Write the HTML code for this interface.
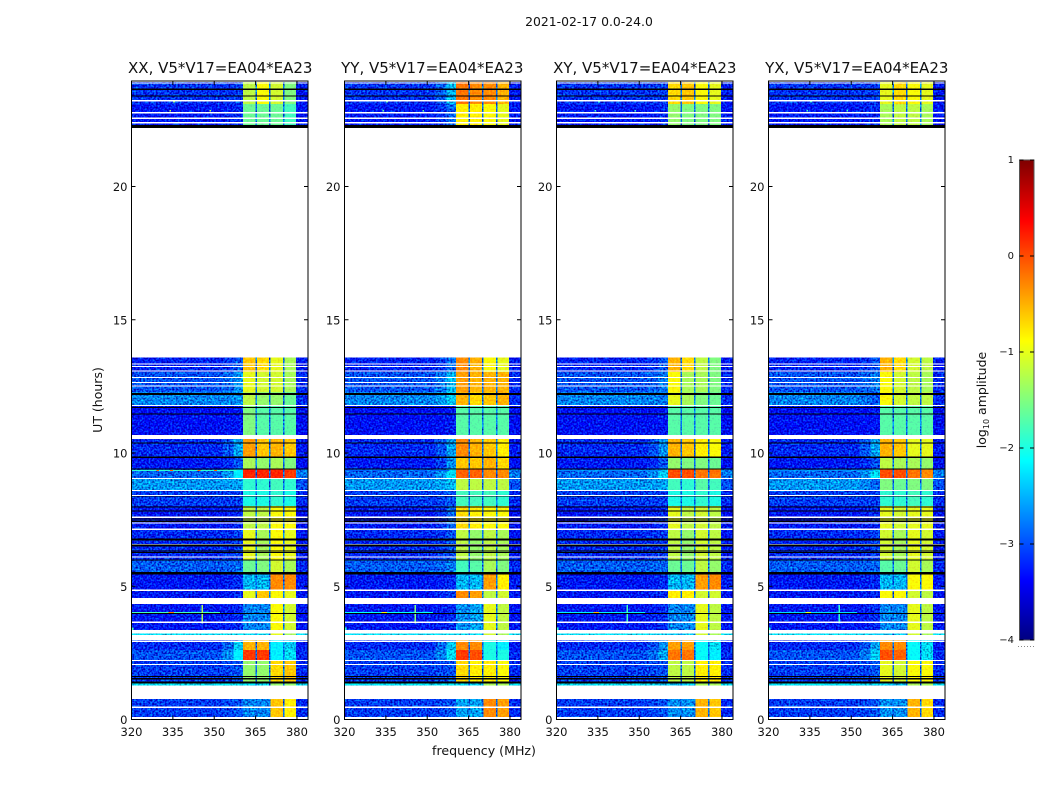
<!DOCTYPE html>
<html lang="en">
<head>
<meta charset="utf-8">
<title>2021-02-17 0.0-24.0</title>
<style>
html,body{margin:0;padding:0;background:#fff;}
svg{display:block;font-family:"DejaVu Sans","Liberation Sans",sans-serif;}
text{fill:#111;}
</style>
</head>
<body>
<svg id="figure" xmlns="http://www.w3.org/2000/svg" width="1050" height="800" viewBox="0 0 1050 800">
<defs>
<filter id="grain" x="0" y="0" width="100%" height="100%" color-interpolation-filters="sRGB">
<feTurbulence type="fractalNoise" baseFrequency="0.55" numOctaves="1" seed="4" result="n"/>
<feColorMatrix in="n" type="matrix" values="0 0 0 0 0.5  0 1 0 0 0  0 1 0 0 0  0 0 0 0 1" result="m"/>
<feComposite in="SourceGraphic" in2="m" operator="arithmetic" k1="0" k2="1" k3="1.5" k4="-0.75" result="a"/>
<feComposite in="a" in2="SourceAlpha" operator="in"/>
</filter>
<filter id="grain-soft" x="0" y="0" width="100%" height="100%" color-interpolation-filters="sRGB">
<feTurbulence type="fractalNoise" baseFrequency="0.55" numOctaves="1" seed="9" result="n"/>
<feColorMatrix in="n" type="matrix" values="0 0 0 0 0.5  0 1 0 0 0  0 0 0 0 0.5  0 0 0 0 1" result="m"/>
<feComposite in="SourceGraphic" in2="m" operator="arithmetic" k1="0" k2="1" k3="0.5" k4="-0.25" result="a"/>
<feComposite in="a" in2="SourceAlpha" operator="in"/>
</filter>
</defs>
<text x="589" y="26" text-anchor="middle" font-size="12.4">2021-02-17 0.0-24.0</text>
<text x="484" y="755" text-anchor="middle" font-size="12.6">frequency (MHz)</text>
<text transform="translate(102,400) rotate(-90)" text-anchor="middle" font-size="12.5">UT (hours)</text>
<g id="panels"></g>
<g id="colorbar"></g>
</svg>
<script>
// ---- Data ----
const panelTitles = ["XX, V5*V17=EA04*EA23", "YY, V5*V17=EA04*EA23", "XY, V5*V17=EA04*EA23", "YX, V5*V17=EA04*EA23"];
const panelKeys = ["xx", "yy", "xy", "yx"];
const freqTicks = [320, 335, 350, 365, 380];
const hourTicks = [0, 5, 10, 15, 20];
const colorbarTicks = [-4, -3, -2, -1, 0, 1];

// spectral columns in MHz: background, shoulder, near-band rise, four windows, tail
const columnEdges = [320, 353, 357, 360.4, 364.9, 365.5, 369.8, 370.4, 374.9, 375.4, 379.6, 384];

// time sections in UT hours [start, end]
const sectionHours = [
  [23.09,23.92],[22.23,23.09],[13.04,13.59],[12.29,13.04],[11.79,12.29],[10.52,11.79],
  [9.85,10.52],[9.40,9.85],[9.04,9.40],[8.57,9.04],[8.01,8.57],[7.14,8.01],[5.98,7.14],
  [5.45,5.98],[4.86,5.45],[4.33,4.86],[3.23,4.33],[3.17,3.23],[2.91,3.17],[2.61,2.91],
  [2.21,2.61],[1.37,2.21],[1.28,1.37],[0.09,0.77]
];
// log10 amplitude of the off-band background and of the tail, per section
const backgroundLevels = [-3.15,-3.3,-3.25,-3.0,-2.75,-3.35,-3.2,-3.3,-2.9,-2.65,-3.1,-3.3,-3.2,-2.95,-3.3,-3.3,-3.3,-2.3,-3.2,-3.2,-3.0,-3.1,-2.3,-3.1];
const tailLevels = [-3.3,-3.3,-3.3,-3.2,-3.2,-3.4,-3.3,-3.4,-2.8,-3.0,-3.2,-3.4,-3.3,-3.2,-3.3,-3.3,-3.3,-2.3,-3.3,-3.3,-3.2,-3.2,-2.3,-3.2];
const gapLevel = -2.85;

// per panel, per section: near-band level, then windows 1 to 4
const xxLevels = [
  [-3.1,-1.2,-0.9,-1.1,-1.5],[-3.2,-1.6,-1.6,-1.6,-1.8],[-3.0,-0.6,-0.7,-1.0,-1.3],[-2.7,-1.0,-1.1,-1.1,-1.3],
  [-2.7,-1.2,-1.4,-1.4,-1.6],[-3.3,-1.5,-1.7,-1.7,-1.7],[-2.6,-0.4,-0.6,-0.5,-0.6],[-3.0,-1.3,-1.4,-1.3,-1.5],
  [-2.2,0.2,0.2,0.2,0.1],[-2.6,-1.9,-1.9,-1.8,-1.9],[-3.1,-2.0,-2.0,-1.9,-2.0],[-3.2,-1.2,-1.2,-0.9,-0.9],
  [-3.1,-1.0,-1.3,-0.9,-1.0],[-2.9,-1.6,-1.5,-1.1,-1.3],[-3.2,-2.5,-2.5,-0.3,-0.3],[-3.2,-1.0,-0.6,-0.9,-1.0],
  [-3.2,-2.75,-2.75,-0.9,-1.1],[-2.3,-2.3,-2.3,-1.0,-1.3],[-3.0,-0.6,-0.6,-2.2,-2.4],[-2.4,-0.5,-0.5,-2.2,-2.4],
  [-2.2,0.1,0.1,-2.2,-2.3],[-3.0,-1.4,-1.4,-0.7,-0.6],[-2.3,-2.3,-2.3,-1.4,-1.4],[-3.0,-2.75,-2.75,-0.6,-0.8]
];
const yyLevels = [
  [-2.5,-0.2,-0.3,-0.3,-0.5],[-2.9,-0.8,-0.8,-0.9,-1.0],[-2.9,-0.3,-0.5,-0.9,-1.0],[-2.5,-0.4,-0.5,-0.5,-0.5],
  [-2.4,-0.5,-0.7,-0.6,-0.5],[-3.3,-1.7,-1.7,-1.7,-1.7],[-2.6,-0.3,-0.5,-0.6,-0.8],[-2.7,-0.6,-0.6,-0.5,-0.7],
  [-2.3,-0.1,-0.1,-0.3,-0.3],[-2.5,-1.2,-1.2,-1.2,-1.2],[-3.0,-1.8,-1.8,-1.8,-1.9],[-2.9,-0.7,-0.8,-0.9,-0.9],
  [-3.0,-1.2,-1.4,-1.2,-1.3],[-2.8,-1.8,-1.7,-1.3,-1.5],[-3.2,-2.5,-2.5,-0.4,-0.8],[-3.1,-0.3,-0.4,-1.2,-1.1],
  [-3.2,-2.7,-2.6,-1.0,-1.2],[-2.3,-2.3,-2.3,-1.1,-1.3],[-2.9,-0.4,-0.4,-2.0,-2.2],[-2.4,-0.3,-0.3,-2.0,-2.2],
  [-2.3,0.1,0.0,-2.0,-2.0],[-3.0,-0.7,-0.8,-0.8,-0.9],[-2.3,-2.3,-2.3,-1.3,-1.3],[-3.0,-2.6,-2.6,-0.3,-0.4]
];
const xyLevels = [
  [-3.1,-0.7,-0.6,-0.9,-1.0],[-3.2,-1.4,-1.5,-1.5,-1.5],[-3.0,-0.5,-0.7,-1.2,-1.5],[-2.8,-0.9,-1.3,-1.3,-1.5],
  [-2.8,-1.0,-1.3,-1.5,-1.6],[-3.3,-1.7,-1.7,-1.7,-1.7],[-2.7,-0.5,-0.6,-0.8,-0.9],[-3.0,-1.4,-1.5,-1.5,-1.6],
  [-2.4,0.0,0.0,-0.2,-0.2],[-2.6,-1.8,-1.9,-1.7,-1.8],[-3.1,-2.0,-2.0,-1.9,-2.0],[-3.2,-1.0,-1.2,-1.1,-1.2],
  [-3.1,-1.2,-1.4,-1.1,-1.2],[-2.9,-1.6,-1.6,-1.2,-1.4],[-3.2,-2.5,-2.5,-0.4,-0.3],[-3.2,-0.8,-0.8,-1.1,-1.1],
  [-3.2,-2.75,-2.75,-1.0,-1.2],[-2.4,-2.4,-2.4,-1.1,-1.3],[-2.8,-0.4,-0.4,-2.1,-2.3],[-2.7,-0.4,-0.4,-2.1,-2.3],
  [-2.6,-0.2,-0.2,-2.1,-2.2],[-3.0,-1.2,-1.2,-0.8,-0.8],[-2.4,-2.4,-2.4,-1.3,-1.3],[-3.0,-2.7,-2.7,-0.5,-0.6]
];
const yxLevels = [
  [-3.1,-1.0,-0.7,-0.9,-1.0],[-3.2,-1.3,-1.2,-1.2,-1.3],[-3.0,-0.5,-0.7,-1.1,-1.2],[-2.8,-0.9,-1.1,-1.2,-1.3],
  [-3.0,-0.9,-1.1,-1.2,-1.2],[-3.3,-1.7,-1.7,-1.7,-1.7],[-2.6,-0.5,-0.6,-1.0,-1.0],[-3.0,-1.2,-1.3,-1.3,-1.4],
  [-2.3,0.0,0.0,-0.2,-0.3],[-2.9,-1.5,-1.6,-1.5,-1.5],[-3.1,-1.9,-1.9,-1.8,-1.9],[-3.2,-1.0,-1.1,-1.0,-1.0],
  [-3.1,-1.1,-1.3,-1.0,-1.1],[-2.9,-1.7,-1.6,-1.1,-1.3],[-3.2,-2.5,-2.5,-0.9,-0.9],[-3.2,-0.9,-0.9,-1.1,-1.2],
  [-3.2,-2.75,-2.75,-1.0,-1.2],[-2.4,-2.4,-2.4,-1.1,-1.3],[-2.9,-0.5,-0.5,-2.1,-2.3],[-2.6,-0.3,-0.3,-2.1,-2.3],
  [-2.4,0.0,-0.1,-2.1,-2.3],[-3.0,-1.0,-1.1,-0.9,-0.9],[-2.4,-2.4,-2.4,-1.3,-1.3],[-3.0,-2.7,-2.7,-0.5,-0.7]
];

// narrow interference: [h0, h1, f0, f1, xx, yy, xy, yx]
const rfiMarks = [
  [4.00,4.04,320,352,-1.8,-2.1,-2.2,-2.3],
  [4.00,4.04,333.5,335.5,-0.2,-0.8,-0.5,-1.0],
  [3.60,4.30,345.4,346.0,-1.3,-1.5,-1.8,-1.9],
  [3.30,3.45,320,320.8,-1.8,-1.9,-1.9,-2.0],
  [9.33,9.37,320,358,-1.9,-2.9,-2.7,-2.7],
  [9.33,9.37,329,330,-0.1,-2.6,-2.5,-2.5],
  [9.33,9.37,334,335,-0.1,-2.6,-2.5,-2.5],
  [9.33,9.37,344,345,-0.1,-2.6,-2.5,-2.5],
  [9.33,9.37,350,351,-0.1,-2.6,-2.5,-2.5],
  [22.82,22.87,333.7,334.4,-1.2,-1.6,-1.8,-1.8],
  [22.82,22.87,348.2,348.9,-1.2,-1.6,-1.8,-1.8],
  [23.15,23.19,335.1,335.7,-1.4,-1.7,-1.9,-1.9]
];

// flagged integrations in UT hours
const whiteFlags = [
  [23.87,23.90],[23.19,23.24],[22.74,22.79],[22.54,22.59],[22.37,22.42],
  [13.32,13.36],[13.22,13.26],[13.05,13.09],[12.82,12.86],[12.63,12.67],[12.49,12.53],
  [11.77,11.81],[10.52,10.68],[9.02,9.06],[8.58,8.62],[8.39,8.43],[7.57,7.61],[7.36,7.40],[7.12,7.16],[6.55,6.59],[6.07,6.11],
  [4.83,4.87],[4.33,4.55],[3.63,3.67],[3.23,3.36],[2.98,3.17],[2.91,2.96],[2.19,2.23],[2.05,2.09],[0.77,1.28],[0.44,0.48],[0,0.09]
];
const blackFlags = [
  [23.63,23.67],[23.38,23.42],[22.20,22.30],
  [12.18,12.26],[11.69,11.73],[11.44,11.48],[10.36,10.40],[9.82,9.86],[9.38,9.42],[8.36,8.39],
  [7.96,8.00],[7.81,7.85],[7.51,7.55],[7.42,7.46],[6.76,6.80],[6.72,6.75],[6.53,6.56],[6.49,6.52],[6.30,6.34],[6.24,6.28],[5.96,6.00],[5.45,5.53],
  [3.95,3.99],[1.59,1.63],[1.51,1.55],[1.36,1.43]
];

// ---- Axis geometry ----
const panelLefts = [131.5, 344.5, 556.5, 768.5];
const panelWidth = 176.5, panelTop = 81, panelBottom = 719.5;
const freqMin = 320, freqMax = 384, hourPx = 26.65;
const cbLeft = 1019.5, cbRight = 1034, cbTop = 160, cbBottom = 640, cbMin = -4, cbMax = 1;

const levelsByPanel = {xx: xxLevels, yy: yyLevels, xy: xyLevels, yx: yxLevels};
const SVGNS = "http://www.w3.org/2000/svg";
const xScale = (left, f) => left + (f - freqMin) / (freqMax - freqMin) * panelWidth;
const yScale = h => panelBottom - h * hourPx;
const cbScale = v => cbBottom - (v - cbMin) / (cbMax - cbMin) * (cbBottom - cbTop);

function make(tag, attrs, parent) {
  const e = document.createElementNS(SVGNS, tag);
  for (const k in attrs) e.setAttribute(k, attrs[k]);
  parent.appendChild(e);
  return e;
}
function jet(v) {
  const t = Math.max(0, Math.min(1, (v - cbMin) / (cbMax - cbMin)));
  const f = c => Math.round(255 * Math.max(0, Math.min(1, 1.5 - Math.abs(4 * t - c))));
  return "rgb(" + f(3) + "," + f(2) + "," + f(1) + ")";
}
const minusText = v => (v < 0 ? "\u2212" + Math.abs(v) : String(v));

const panelsRoot = document.getElementById("panels");
panelLefts.forEach((left, p) => {
  const key = panelKeys[p];
  const levels = levelsByPanel[key];
  const right = left + panelWidth;
  const g = make("g", {}, panelsRoot);
  
  

  make("rect", {x: left, y: panelTop, width: panelWidth, height: panelBottom - panelTop, fill: "#fff"}, g);

  const grainG = make("g", {filter: "url(#grain)", "shape-rendering": "crispEdges"}, g);
  
  
  const bandG = make("g", {filter: "url(#grain-soft)", "shape-rendering": "crispEdges"}, g);
  
  

  sectionHours.forEach((sec, s) => {
    const row = levels[s];
    const bg = backgroundLevels[s];
    // column values: bg, shoulder, near, w1, gap, w2, gap, w3, gap, w4, tail
    const values = [bg, bg + (row[0] - bg) * 0.35, row[0], row[1], gapLevel, row[2], gapLevel, row[3], gapLevel, row[4], tailLevels[s]];
    values.forEach((val, c) => {
      const x0 = xScale(left, columnEdges[c]);
      const x1 = xScale(left, columnEdges[c + 1]);
      const target = val < -2.2 ? grainG : bandG;
      const cell = make("rect", {x: x0, y: yScale(sec[1]), width: x1 - x0, height: yScale(sec[0]) - yScale(sec[1]), fill: jet(val)}, target);
      
      
    });
  });

  rfiMarks.forEach(m => {
    const x0 = xScale(left, m[2]);
    const mark = make("rect", {x: x0, y: yScale(m[1]), width: xScale(left, m[3]) - x0, height: yScale(m[0]) - yScale(m[1]), fill: jet(m[4 + p]), "shape-rendering": "crispEdges"}, g);
    
    
  });

  whiteFlags.forEach(fl => {
    const flag = make("rect", {x: left, y: yScale(fl[1]), width: panelWidth, height: yScale(fl[0]) - yScale(fl[1]), fill: "#fff", "shape-rendering": "crispEdges"}, g);
    
    
  });
  blackFlags.forEach(fl => {
    const flag = make("rect", {x: left, y: yScale(fl[1]), width: panelWidth, height: yScale(fl[0]) - yScale(fl[1]), fill: "#000", "shape-rendering": "crispEdges"}, g);
    
    
  });

  const frame = make("rect", {x: left, y: panelTop, width: panelWidth, height: panelBottom - panelTop, fill: "none", stroke: "#000", "stroke-width": 1}, g);
  
  

  const title = make("text", {x: left + panelWidth / 2 + (p === 0 ? 0.5 : p === 1 ? -0.5 : 0), y: 73, "text-anchor": "middle", "font-size": 15}, g);
  title.textContent = panelTitles[p];
  
  

  freqTicks.forEach(f => {
    const x = xScale(left, f);
    const t = make("path", {d: "M" + x + " " + panelBottom + "v-4M" + x + " " + panelTop + "v4", stroke: "#000", "stroke-width": 1, fill: "none"}, g);
    
    
    const lab = make("text", {x: x, y: 736, "text-anchor": "middle", "font-size": 11.5}, g);
    lab.textContent = f;
    
    
  });
  hourTicks.forEach(h => {
    const y = yScale(h);
    const t = make("path", {d: "M" + left + " " + y + "h4M" + right + " " + y + "h-4", stroke: "#000", "stroke-width": 1, fill: "none"}, g);
    
    
    const lab = make("text", {x: left - 4, y: y + 4.5, "text-anchor": "end", "font-size": 11.5}, g);
    lab.textContent = h;
    
    
  });
});

// ---- Colorbar ----
const cbRoot = document.getElementById("colorbar");
const cbStepCount = 240;
for (let i = 0; i < cbStepCount; i++) {
  const v0 = cbMin + (cbMax - cbMin) * i / cbStepCount;
  const v1 = cbMin + (cbMax - cbMin) * (i + 1) / cbStepCount;
  const seg = make("rect", {x: cbLeft, y: cbScale(v1), width: cbRight - cbLeft, height: cbScale(v0) - cbScale(v1) + 0.5, fill: jet((v0 + v1) / 2), "shape-rendering": "crispEdges"}, cbRoot);
  
  
}
const cbFrame = make("rect", {x: cbLeft, y: cbTop, width: cbRight - cbLeft, height: cbBottom - cbTop, fill: "none", stroke: "#555", "stroke-width": 1}, cbRoot);


colorbarTicks.forEach(v => {
  const y = cbScale(v);
  const t = make("path", {d: "M" + cbLeft + " " + y + "h4M" + cbRight + " " + y + "h-4", stroke: "#000", "stroke-width": 1, fill: "none"}, cbRoot);
  
  
  const lab = make("text", {x: 1014, y: y + 3, "text-anchor": "end", "font-size": 10}, cbRoot);
  lab.textContent = minusText(v);
  
  
});
const cbTitle = make("text", {transform: "translate(986,400) rotate(-90)", "text-anchor": "middle", "font-size": 12.5}, cbRoot);


const tLog = make("tspan", {}, cbTitle);
tLog.textContent = "log";
const tSub = make("tspan", {"font-size": 8, dy: 3}, cbTitle);
tSub.textContent = "10";
const tAmp = make("tspan", {dy: -3}, cbTitle);
tAmp.textContent = " amplitude";
const cbDots = make("path", {d: "M1018 646.5H1035", stroke: "#888", "stroke-width": 1, "stroke-dasharray": "1 2", fill: "none"}, cbRoot);


</script>
</body>
</html>
